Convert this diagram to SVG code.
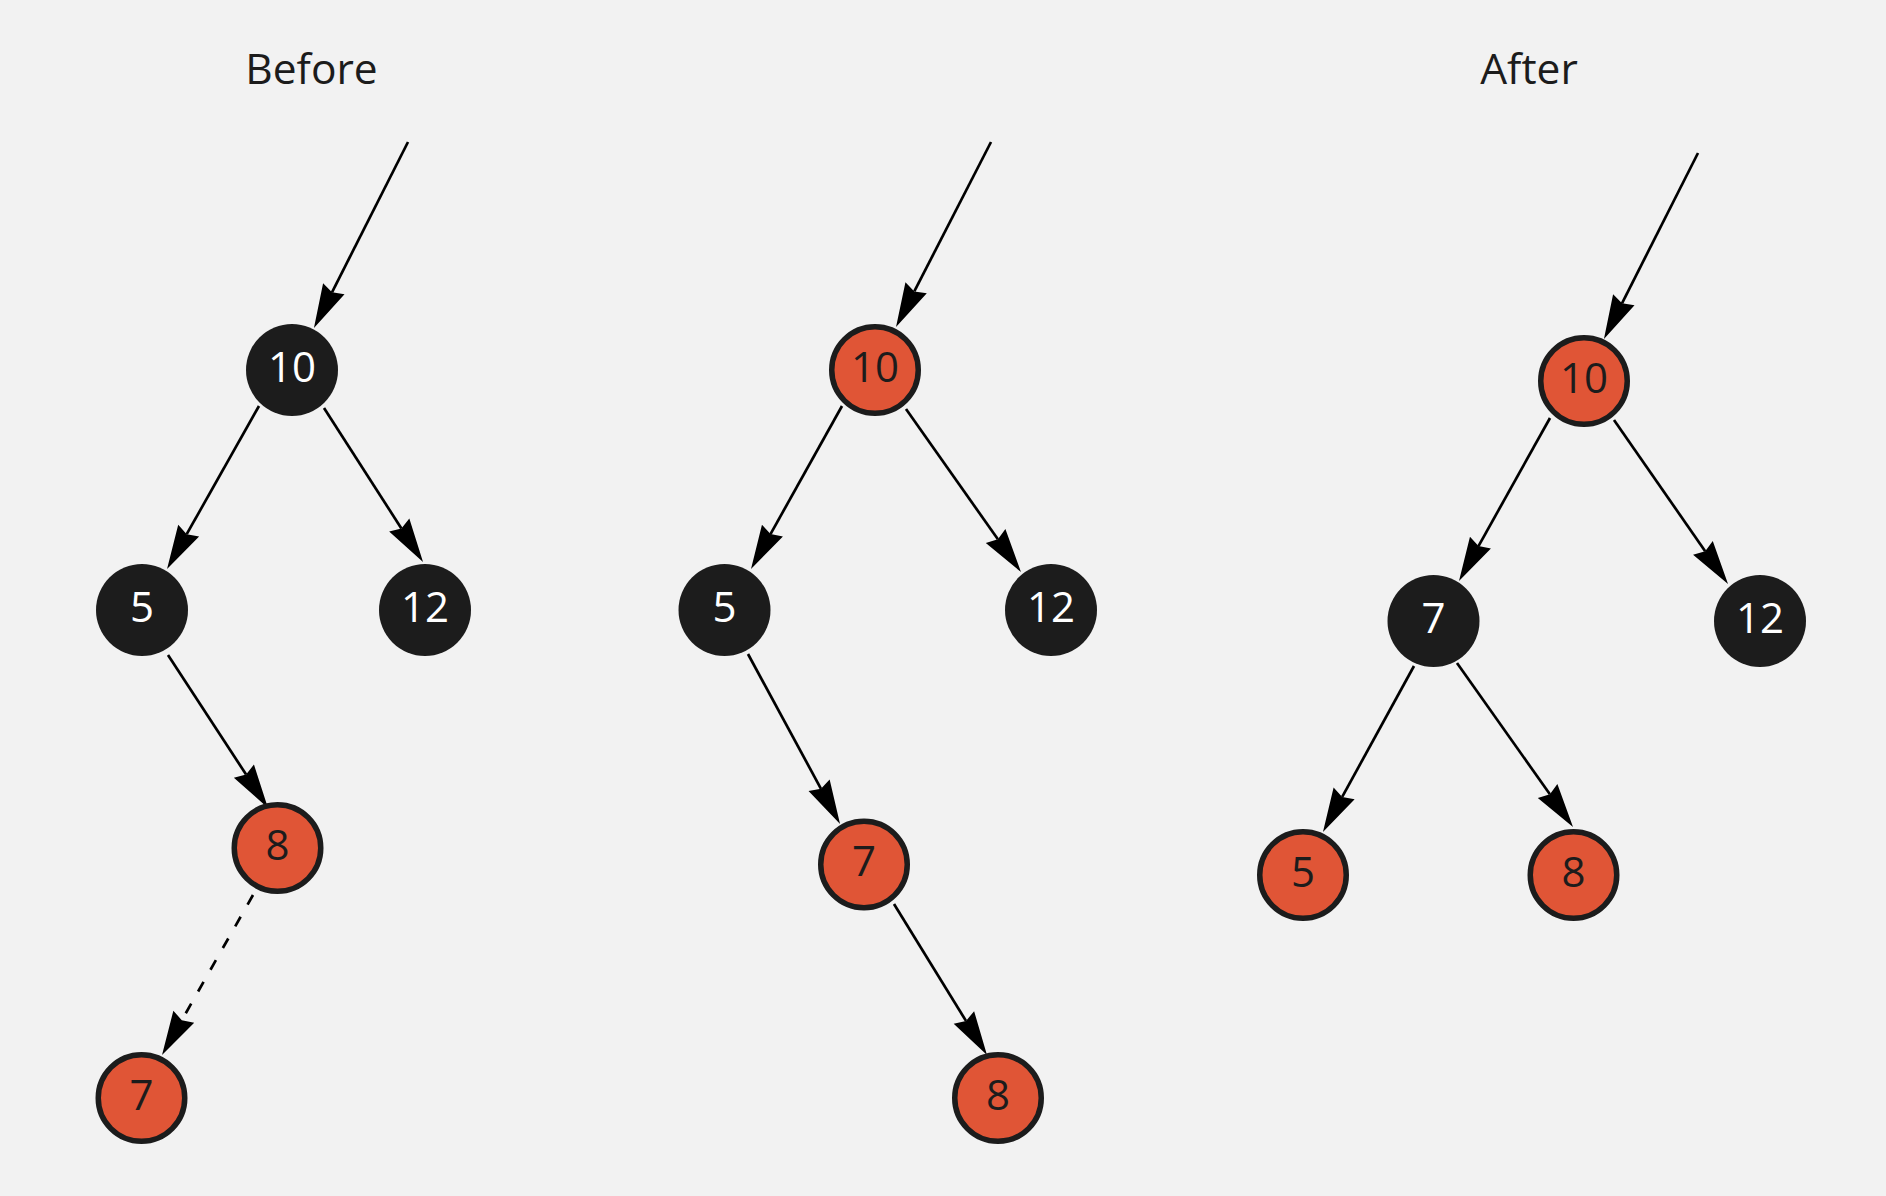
<svg xmlns="http://www.w3.org/2000/svg" width="1886" height="1196" viewBox="0 0 1886 1196">
  <style>
    .title { font-family: "Open Sans", "Noto Sans", "DejaVu Sans", sans-serif; font-size: 42.5px; fill: #1c1c1c; text-anchor: middle; }
    .lbl { font-family: "Open Sans", "Noto Sans", "DejaVu Sans", sans-serif; font-size: 42px; text-anchor: middle; }
    .black circle { fill: #1c1c1c; }
    .black text { fill: #ffffff; }
    .red circle { fill: #e05536; stroke: #1c1c1c; stroke-width: 5.5; }
    .red text { fill: #1c1c1c; }
    .edge { stroke: #000000; stroke-width: 2.7; fill: none; marker-end: url(#arrow); }
    .dashed { stroke-dasharray: 11 14; }
  </style>
  <defs>
    <marker id="arrow" markerUnits="userSpaceOnUse" markerWidth="44" markerHeight="24" viewBox="0 -12 44 24" refX="4" refY="0" orient="auto" overflow="visible">
      <path d="M0,-12 L44,0 L0,12 L4,0 Z" fill="#000000"/>
    </marker>
  </defs>

  <rect width="1886" height="1196" fill="#f2f2f2"/>

  <text class="title" x="311.5" y="84">Before</text>
  <text class="title" x="1529" y="84">After</text>

  <g id="connectors">
    <!-- Before -->
    <line class="edge" x1="408" y1="142" x2="332.0" y2="292.3"/>
    <line class="edge" x1="259" y1="406" x2="186.7" y2="534.2"/>
    <line class="edge" x1="324" y1="408" x2="401.4" y2="528.4"/>
    <line class="edge" x1="168" y1="655" x2="246.1" y2="774.5"/>
    <line class="edge dashed" x1="253" y1="895" x2="181.8" y2="1020.2"/>
    <!-- intermediate -->
    <line class="edge" x1="991" y1="142" x2="914.3" y2="291.4"/>
    <line class="edge" x1="842" y1="406" x2="770.5" y2="534.1"/>
    <line class="edge" x1="906" y1="409" x2="997.9" y2="539.3"/>
    <line class="edge" x1="748" y1="654" x2="821.0" y2="788.8"/>
    <line class="edge" x1="894" y1="904" x2="966.0" y2="1020.9"/>
    <!-- After -->
    <line class="edge" x1="1698" y1="153" x2="1622.0" y2="303.3"/>
    <line class="edge" x1="1550" y1="418" x2="1478.5" y2="546.1"/>
    <line class="edge" x1="1614" y1="420" x2="1705.2" y2="551.2"/>
    <line class="edge" x1="1414" y1="666" x2="1342.2" y2="796.9"/>
    <line class="edge" x1="1457" y1="663" x2="1549.9" y2="794.3"/>
  </g>

  <!-- Before -->
  <g id="before-10" class="black"><circle cx="292" cy="370" r="46"/><text class="lbl" x="292" y="381.5">10</text></g>
  <g id="before-5" class="black"><circle cx="142" cy="610" r="46"/><text class="lbl" x="142" y="621.5">5</text></g>
  <g id="before-12" class="black"><circle cx="425" cy="610" r="46"/><text class="lbl" x="425" y="621.5">12</text></g>
  <g id="before-8" class="red"><circle cx="277.5" cy="848" r="43.25"/><text class="lbl" x="277.5" y="859.5">8</text></g>
  <g id="before-7" class="red"><circle cx="141.5" cy="1098" r="43.25"/><text class="lbl" x="141.5" y="1109.5">7</text></g>

  <!-- intermediate -->
  <g id="mid-10" class="red"><circle cx="875" cy="370" r="43.25"/><text class="lbl" x="875" y="381.5">10</text></g>
  <g id="mid-5" class="black"><circle cx="724.5" cy="610" r="46"/><text class="lbl" x="724.5" y="621.5">5</text></g>
  <g id="mid-12" class="black"><circle cx="1051" cy="610" r="46"/><text class="lbl" x="1051" y="621.5">12</text></g>
  <g id="mid-7" class="red"><circle cx="864" cy="864.5" r="43.25"/><text class="lbl" x="864" y="876">7</text></g>
  <g id="mid-8" class="red"><circle cx="998" cy="1098" r="43.25"/><text class="lbl" x="998" y="1109.5">8</text></g>

  <!-- After -->
  <g id="after-10" class="red"><circle cx="1584" cy="381" r="43.25"/><text class="lbl" x="1584" y="392.5">10</text></g>
  <g id="after-7" class="black"><circle cx="1433.5" cy="621" r="46"/><text class="lbl" x="1433.5" y="632.5">7</text></g>
  <g id="after-12" class="black"><circle cx="1760" cy="621" r="46"/><text class="lbl" x="1760" y="632.5">12</text></g>
  <g id="after-5" class="red"><circle cx="1303" cy="875" r="43.25"/><text class="lbl" x="1303" y="886.5">5</text></g>
  <g id="after-8" class="red"><circle cx="1573.5" cy="875" r="43.25"/><text class="lbl" x="1573.5" y="886.5">8</text></g>
</svg>
